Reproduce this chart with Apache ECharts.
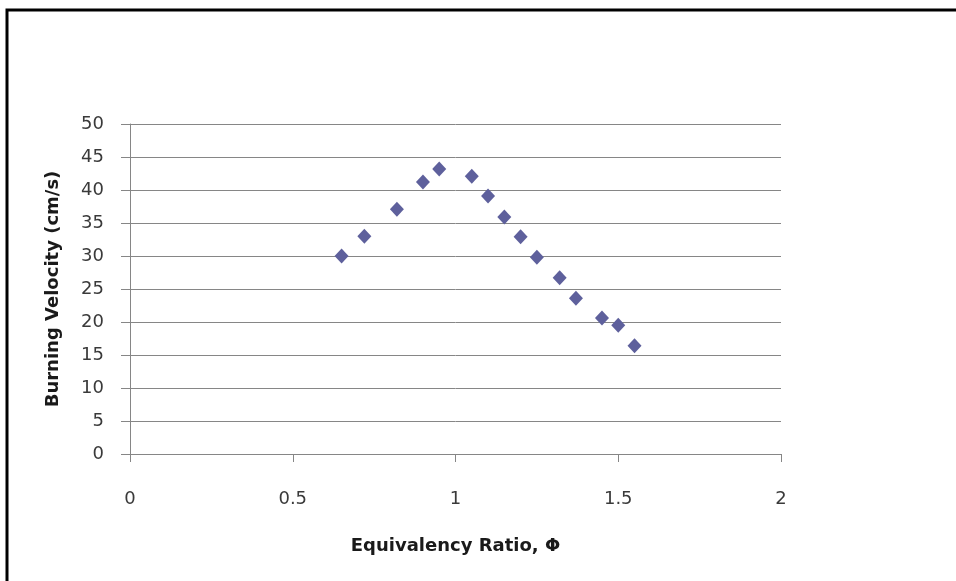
<!DOCTYPE html>
<html>
<head>
<meta charset="utf-8">
<script src="https://cdn.jsdelivr.net/npm/echarts@6/dist/echarts.min.js"></script>
<style>
html,body{margin:0;padding:0;background:#fff;}
#chart{width:956px;height:581px;}
</style>
</head>
<body>
<div id="chart"></div>
<script>
var phi = [0.65, 0.72, 0.82, 0.90, 0.95, 1.05, 1.10, 1.15, 1.20, 1.25, 1.32, 1.37, 1.45, 1.50, 1.55];
var velocity = [30.0, 33.0, 37.1, 41.2, 43.2, 42.1, 39.1, 35.9, 32.9, 29.8, 26.7, 23.6, 20.6, 19.5, 16.4];
var xTicks = [0, 0.5, 1, 1.5, 2];
var yTicks = [0, 5, 10, 15, 20, 25, 30, 35, 40, 45, 50];

var points = phi.map(function (p, i) { return [p, velocity[i]]; });
var font = '"DejaVu Sans", "Open Sans", sans-serif';

var chart = echarts.init(document.getElementById('chart'), null, {renderer: 'canvas'});
chart.setOption({
  animation: false,
  backgroundColor: '#fff',
  grid: {left: 130, right: 175, top: 124, bottom: 127, containLabel: false},
  graphic: [{
    type: 'polyline',
    shape: {points: [[7, 590], [7, 10], [960, 10]]},
    style: {stroke: '#000', lineWidth: 3, fill: null},
    silent: true
  }],
  xAxis: {
    type: 'value',
    min: xTicks[0], max: xTicks[xTicks.length - 1], interval: 0.5,
    name: 'Equivalency Ratio, Φ',
    nameLocation: 'middle', nameGap: 83,
    nameTextStyle: {fontFamily: font, fontSize: 18, color: '#1a1a1a', fontWeight: 'bold'},
    axisLine: {show: true, lineStyle: {color: '#868686', width: 1}},
    axisTick: {show: true, inside: false, length: 8, lineStyle: {color: '#868686'}},
    axisLabel: {fontFamily: font, fontSize: 18, color: '#3a3a3a', margin: 36,
      formatter: function (v) { return String(v); }},
    splitLine: {show: false}
  },
  yAxis: {
    type: 'value',
    min: yTicks[0], max: yTicks[yTicks.length - 1], interval: 5,
    name: 'Burning Velocity (cm/s)',
    nameLocation: 'middle', nameGap: 68,
    nameTextStyle: {fontFamily: font, fontSize: 18, color: '#1a1a1a', fontWeight: 'bold'},
    axisLine: {show: true, lineStyle: {color: '#868686', width: 1}},
    axisTick: {show: true, inside: false, length: 9, lineStyle: {color: '#868686'}},
    axisLabel: {fontFamily: font, fontSize: 18, color: '#3a3a3a', margin: 26},
    splitLine: {show: true, lineStyle: {color: '#868686', width: 1}}
  },
  series: [{
    type: 'scatter',
    data: points,
    symbol: 'diamond',
    symbolSize: [14, 15],
    itemStyle: {color: '#5e609c', opacity: 1}
  }]
});
</script>
</body>
</html>
